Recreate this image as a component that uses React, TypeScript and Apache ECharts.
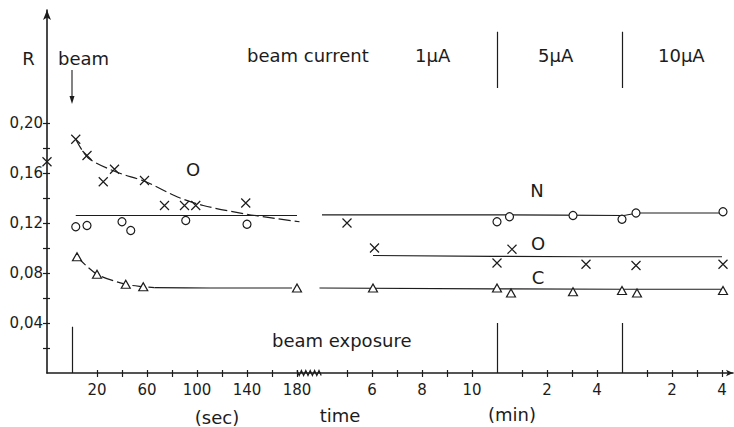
import React, { useEffect, useRef } from "react";
import * as echarts from "echarts";

// Time axis is broken into four scales: seconds (1 µA start), then minutes at 1, 5 and 10 µA.
type Seg = "sec" | "a1" | "a5" | "a10";
const pos = (seg: Seg, t: number): number => {
  if (seg === "sec") return 1 + t / 20;
  if (seg === "a1") return 7 + t;
  if (seg === "a5") return 18 + t;
  return 23 + t;
};

// Measured points [time, R]
const oxygenSec = [[-20, 0.169], [3, 0.187], [12, 0.174], [25, 0.153], [34, 0.163], [58, 0.154], [74, 0.134], [90, 0.134], [99, 0.134], [139, 0.136]];
const oxygen1uA = [[5.0, 0.12], [6.1, 0.1], [11.0, 0.088]];
const oxygen5uA = [[0.6, 0.099], [3.56, 0.087]];
const oxygen10uA = [[0.56, 0.086], [4.04, 0.087]];

const nitrogenSec = [[3, 0.117], [12, 0.118], [40, 0.121], [47, 0.114], [91, 0.122], [140, 0.119]];
const nitrogen1uA = [[11.0, 0.121]];
const nitrogen5uA = [[0.5, 0.125], [3.04, 0.126], [5.0, 0.123]];
const nitrogen10uA = [[0.56, 0.128], [4.04, 0.129]];

const carbonSec = [[4, 0.093], [20, 0.079], [43, 0.071], [57, 0.069], [180, 0.068]];
const carbon1uA = [[6.04, 0.068], [11.0, 0.068]];
const carbon5uA = [[0.56, 0.064], [3.04, 0.065], [5.0, 0.066]];
const carbon10uA = [[0.6, 0.064], [4.04, 0.066]];

// Drawn trend lines [segment, time, R]
const oxygenCurve: [Seg, number, number][] = [["sec", 3, 0.187], ["sec", 13, 0.172], ["sec", 35, 0.161], ["sec", 59, 0.153], ["sec", 84, 0.141], ["sec", 105, 0.134], ["sec", 140, 0.127], ["sec", 182, 0.121]];
const oxygenLevel: [Seg, number, number][] = [["a1", 6.04, 0.094], ["a5", 3.5, 0.093], ["a10", 4.0, 0.093]];
const nitrogenLevelSec: [Seg, number, number][] = [["sec", 3, 0.126], ["sec", 180, 0.126]];
const nitrogenLevelMin: [Seg, number, number][] = [["a1", 4, 0.1265], ["a5", 0, 0.1265], ["a5", 5, 0.126], ["a10", 0.7, 0.128], ["a10", 4, 0.128]];
const carbonCurve: [Seg, number, number][] = [["sec", 4, 0.093], ["sec", 20, 0.079], ["sec", 43, 0.071], ["sec", 57, 0.069], ["sec", 66, 0.0683]];
const carbonLevelSec: [Seg, number, number][] = [["sec", 66, 0.0683], ["sec", 110, 0.068], ["sec", 176, 0.068]];
const carbonLevel: [Seg, number, number][] = [["a1", 3.9, 0.068], ["a5", 5, 0.067], ["a10", 4, 0.067]];

// Axis ticks and labels
const secTicks = [20, 40, 60, 80, 100, 120, 140, 160, 180];
const min1Ticks = [5, 6, 7, 8, 9, 10];
const min5Ticks = [1, 2, 3, 4];
const min10Ticks = [1, 2, 3, 4];
const secLabels = [20, 60, 100, 140, 180];
const min1Labels = [6, 8, 10];
const min5Labels = [2, 4];
const min10Labels = [2, 4];
const rTicks = [0.02, 0.04, 0.06, 0.08, 0.1, 0.12, 0.14, 0.16, 0.18, 0.2];
const rLabels = [0.04, 0.08, 0.12, 0.16, 0.2];

// Beam start and beam-current changes (segment, time)
const beamOn: [Seg, number] = ["sec", 0];
const currentSteps: [Seg, number][] = [["a5", 0], ["a10", 0]];

const INK = "#1c1c1c";
const FONT = '"DejaVu Sans", sans-serif';

const toPts = (seg: Seg, arr: number[][]) => arr.map(([t, r]) => [pos(seg, t), r]);
const toLine = (arr: [Seg, number, number][]) => arr.map(([s, t, r]) => [pos(s, t), r]);

export default function App() {
  const ref = useRef<HTMLDivElement>(null);

  useEffect(() => {
    if (!ref.current) return;
    const chart = echarts.init(ref.current, null, { renderer: "svg" });

    const xTickPos = [
      ...secTicks.map((t) => pos("sec", t)),
      ...min1Ticks.map((t) => pos("a1", t)),
      ...min5Ticks.map((t) => pos("a5", t)),
      ...min10Ticks.map((t) => pos("a10", t)),
    ];
    const labelMap = new Map<string, string>();
    secLabels.forEach((t) => labelMap.set(pos("sec", t).toFixed(3), String(t)));
    min1Labels.forEach((t) => labelMap.set(pos("a1", t).toFixed(3), String(t)));
    min5Labels.forEach((t) => labelMap.set(pos("a5", t).toFixed(3), String(t)));
    min10Labels.forEach((t) => labelMap.set(pos("a10", t).toFixed(3), String(t)));
    const xLabelPos = Array.from(labelMap.keys()).map(Number);

    const xMax = 27.44;
    const yMax = 0.2904;

    const textStyle = (size: number) => ({ fontSize: size, fontFamily: FONT, fill: INK });
    const txt = (text: string, x: number, y: number, size: number, align = "left") => ({
      type: "text",
      x,
      y,
      silent: true,
      style: { ...textStyle(size), text, align, textAlign: align, verticalAlign: "middle", textVerticalAlign: "middle" },
    });

    const lineSeries = (name: string, data: number[][], dashed: boolean) => ({
      name,
      type: "line",
      data,
      smooth: 0.3,
      symbol: "none",
      z: 2,
      lineStyle: { color: INK, width: 1.2, type: dashed ? [12, 4] : "solid" },
    });

    const xMark = "path://M0,0L10,10M10,0L0,10";
    const scatter = (name: string, data: number[][], symbol: string, size: number | number[]) => ({
      name,
      type: "scatter",
      data,
      symbol,
      symbolSize: size,
      z: 4,
      itemStyle: { color: symbol === xMark ? "none" : "#fff", borderColor: INK, borderWidth: 1.2, opacity: 1 },
    });

    const vline = (u: number, r0: number, r1: number) => [
      { coord: [u, r0], symbol: "none" },
      { coord: [u, r1], symbol: "none" },
    ];

    const beamU = pos(beamOn[0], beamOn[1]);
    const stepU = currentSteps.map(([s, t]) => pos(s, t));

    chart.setOption({
      animation: false,
      grid: { left: 47, right: 1, top: 10, bottom: 54 },
      xAxis: [
        {
          type: "value",
          min: 0,
          max: xMax,
          splitLine: { show: false },
          axisLine: { lineStyle: { color: INK, width: 1.6 }, symbol: ["none", "arrow"], symbolSize: [5, 7] },
          axisTick: { customValues: xTickPos, length: 4, lineStyle: { color: INK, width: 1.2 } },
          axisLabel: {
            customValues: xLabelPos,
            formatter: (v: number) => labelMap.get(v.toFixed(3)) ?? "",
            margin: 9,
            fontSize: 15,
            fontFamily: FONT,
            color: INK,
          },
        },
        {
          type: "value",
          min: 0,
          max: xMax,
          position: "bottom",
          splitLine: { show: false },
          axisLine: { show: false },
          axisTick: { customValues: xTickPos, inside: true, length: 3, lineStyle: { color: INK, width: 1.2 } },
          axisLabel: { show: false },
        },
      ],
      yAxis: [
        {
          type: "value",
          min: 0,
          max: yMax,
          splitLine: { show: false },
          axisLine: { lineStyle: { color: INK, width: 1.6 }, symbol: ["none", "arrow"], symbolSize: [6, 10] },
          axisTick: { customValues: rTicks, length: 4, lineStyle: { color: INK, width: 1.2 } },
          axisLabel: {
            customValues: rLabels,
            formatter: (v: number) => v.toFixed(2).replace(".", ","),
            margin: 4,
            fontSize: 15,
            fontFamily: FONT,
            color: INK,
          },
        },
        {
          type: "value",
          min: 0,
          max: yMax,
          position: "left",
          splitLine: { show: false },
          axisLine: { show: false },
          axisTick: { customValues: rTicks, inside: true, length: 3, lineStyle: { color: INK, width: 1.2 } },
          axisLabel: { show: false },
        },
      ],
      series: [
        lineSeries("O trend", toLine(oxygenCurve), true),
        lineSeries("O level", toLine(oxygenLevel), false),
        {
          ...lineSeries("N level", toLine(nitrogenLevelSec), false),
          markLine: {
            silent: true,
            symbol: "none",
            label: { show: false },
            lineStyle: { color: INK, width: 1.2, type: "solid" },
            data: [
              vline(beamU, 0, 0.037),
              ...stepU.map((u) => vline(u, 0, 0.04)),
              ...stepU.map((u) => vline(u, 0.228, 0.273)),
            ],
          },
        },
        lineSeries("N level min", toLine(nitrogenLevelMin), false),
        lineSeries("C trend", toLine(carbonCurve), true),
        lineSeries("C level sec", toLine(carbonLevelSec), false),
        lineSeries("C level", toLine(carbonLevel), false),
        scatter("O", [...toPts("sec", oxygenSec), ...toPts("a1", oxygen1uA), ...toPts("a5", oxygen5uA), ...toPts("a10", oxygen10uA)], xMark, 9),
        scatter("N", [...toPts("sec", nitrogenSec), ...toPts("a1", nitrogen1uA), ...toPts("a5", nitrogen5uA), ...toPts("a10", nitrogen10uA)], "circle", 8),
        scatter("C", [...toPts("sec", carbonSec), ...toPts("a1", carbon1uA), ...toPts("a5", carbon5uA), ...toPts("a10", carbon10uA)], "triangle", [9, 8]),
      ],
    });

    // Annotations and axis break, placed through the axis scales
    const px = (u: number, r: number) => chart.convertToPixel({ xAxisIndex: 0, yAxisIndex: 0 }, [u, r]) as number[];
    const [bx0, by] = px(pos("sec", 180), 0);
    const [bx1] = px(pos("a1", 4), 0);
    const zig: number[][] = [];
    for (let x = bx0, i = 0; x <= bx1; x += 2.2, i++) zig.push([x, by + (i % 2 ? 2.5 : -2.5)]);
    const [ax] = px(beamU, 0);

    chart.setOption({
      graphic: [
        { type: "polyline", silent: true, shape: { points: zig }, style: { stroke: INK, lineWidth: 1.3, fill: "none" } },
        { type: "line", silent: true, shape: { x1: ax, y1: 70, x2: ax, y2: 98 }, style: { stroke: INK, lineWidth: 1.1 } },
        { type: "polygon", silent: true, shape: { points: [[ax - 2.5, 96], [ax + 2.5, 96], [ax, 104]] }, style: { fill: INK } },
        txt("R", 28.5, 58, 18, "center"),
        txt("beam", 58, 58, 18),
        txt("beam current", 247, 55, 18),
        txt("1\u00b5A", 415, 55, 18),
        txt("5\u00b5A", 538, 55, 18),
        txt("10\u00b5A", 658, 55, 18),
        txt("O", 193, 169, 18, "center"),
        txt("N", 537, 190, 18, "center"),
        txt("O", 538, 243, 18, "center"),
        txt("C", 538, 277, 18, "center"),
        txt("beam exposure", 272, 340, 18),
        txt("(sec)", 217, 417, 18, "center"),
        txt("time", 340, 415, 18, "center"),
        txt("(min)", 512, 414, 18, "center"),
      ],
    });

    return () => chart.dispose();
  }, []);

  return <div ref={ref} style={{ position: "fixed", left: 0, top: 0, width: 734, height: 427, background: "#fff" }} />;
}
